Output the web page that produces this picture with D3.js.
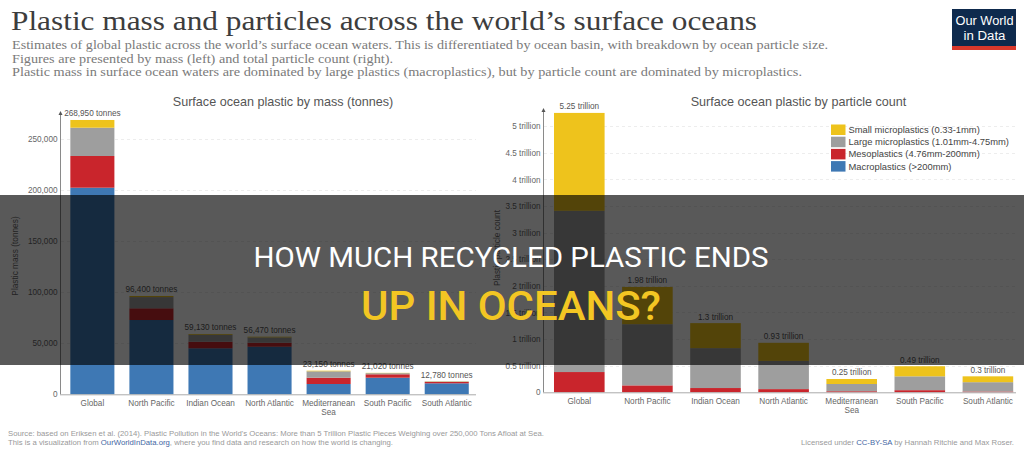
<!DOCTYPE html>
<html><head><meta charset="utf-8">
<script src="https://cdn.jsdelivr.net/npm/d3@7"></script>
<style>
html,body{margin:0;padding:0;background:#fff;}
svg{display:block;}
</style></head>
<body>
<svg id="chart" width="1024" height="451"></svg>
<script>
// ---------------- data ----------------
const categories = ["Global","North Pacific","Indian Ocean","North Atlantic","Mediterranean Sea","South Pacific","South Atlantic"];
const sizeClasses = ["Small microplastics (0.33-1mm)","Large microplastics (1.01mm-4.75mm)","Mesoplastics (4.76mm-200mm)","Macroplastics (>200mm)"];
// mass, tonnes
const massMacro      = [202550, 72840, 45100, 46670, 10100, 16270, 10780];
const massMeso       = [31080, 11470, 6470, 3920, 6170, 3350, 1300];
const massLargeMicro = [27740, 11000, 6760, 5180, 6280, 1100, 500];
const massSmallMicro = [7580, 1090, 800, 700, 600, 300, 200];
const massLabels = ["268,950 tonnes","96,400 tonnes","59,130 tonnes","56,470 tonnes","23,150 tonnes","21,020 tonnes","12,780 tonnes"];
// particle count, trillions
const countMacro      = [0.0009, 0.0003, 0.0002, 0.0002, 0.0001, 0.0001, 0.0001];
const countMeso       = [0.38, 0.13, 0.08, 0.06, 0.02, 0.04, 0.015];
const countLargeMicro = [3.03, 1.15, 0.75, 0.53, 0.136, 0.26, 0.175];
const countSmallMicro = [1.84, 0.70, 0.47, 0.34, 0.094, 0.19, 0.11];
const countLabels = ["5.25 trillion","1.98 trillion","1.3 trillion","0.93 trillion","0.25 trillion","0.49 trillion","0.3 trillion"];
// ticks
const massTicks = [0, 50000, 100000, 150000, 200000, 250000];
const countTicks = [0, 0.5, 1, 1.5, 2, 2.5, 3, 3.5, 4, 4.5, 5];
const countTickLabels = ["0","0.5 trillion","1 trillion","1.5 trillion","2 trillion","2.5 trillion","3 trillion","3.5 trillion","4 trillion","4.5 trillion","5 trillion"];

// ---------------- styles ----------------
const colors = {
  "Small microplastics (0.33-1mm)": "#EEC31C",
  "Large microplastics (1.01mm-4.75mm)": "#9E9E9E",
  "Mesoplastics (4.76mm-200mm)": "#C9252C",
  "Macroplastics (>200mm)": "#3E78B4"
};
const SANS = "'Liberation Sans', Arial, Helvetica, sans-serif";
const SERIF = "'Liberation Serif', 'DejaVu Serif', serif";

const svg = d3.select("#chart");

// ---------------- header ----------------
svg.append("text").attr("x", 11).attr("y", 30)
  .attr("font-family", SERIF).attr("font-size", 27).attr("fill", "#3d3d3d")
  .attr("textLength", 746).attr("lengthAdjust", "spacingAndGlyphs")
  .text("Plastic mass and particles across the world’s surface oceans");
const subtitle = [
  ["Estimates of global plastic across the world’s surface ocean waters. This is differentiated by ocean basin, with breakdown by ocean particle size.", 816],
  ["Figures are presented by mass (left) and total particle count (right).", 381],
  ["Plastic mass in surface ocean waters are dominated by large plastics (macroplastics), but by particle count are dominated by microplastics.", 790]
];
subtitle.forEach((s, i) => {
  svg.append("text").attr("x", 12).attr("y", 49 + i * 13.5)
    .attr("font-family", SERIF).attr("font-size", 13.5).attr("fill", "#7a7a7a")
    .attr("textLength", s[1]).attr("lengthAdjust", "spacingAndGlyphs")
    .text(s[0]);
});
// logo
const logo = svg.append("g");
logo.append("rect").attr("x", 952).attr("y", 9).attr("width", 64).attr("height", 41).attr("fill", "#0E2A4D");
logo.append("rect").attr("x", 952).attr("y", 46).attr("width", 64).attr("height", 4).attr("fill", "#D9382B");
logo.append("text").attr("x", 984.5).attr("y", 25).attr("text-anchor", "middle")
  .attr("font-family", SANS).attr("font-size", 12.5).attr("fill", "#fff")
  .attr("textLength", 58).attr("lengthAdjust", "spacingAndGlyphs").text("Our World");
logo.append("text").attr("x", 984.5).attr("y", 39.5).attr("text-anchor", "middle")
  .attr("font-family", SANS).attr("font-size", 12.5).attr("fill", "#fff")
  .attr("textLength", 42).attr("lengthAdjust", "spacingAndGlyphs").text("in Data");

// ---------------- chart builder ----------------
const stackOrder = ["Macroplastics (>200mm)","Mesoplastics (4.76mm-200mm)","Large microplastics (1.01mm-4.75mm)","Small microplastics (0.33-1mm)"];
function buildRows(macro, meso, large, small) {
  return categories.map((c, i) => ({
    category: c,
    "Macroplastics (>200mm)": macro[i],
    "Mesoplastics (4.76mm-200mm)": meso[i],
    "Large microplastics (1.01mm-4.75mm)": large[i],
    "Small microplastics (0.33-1mm)": small[i]
  }));
}

function drawChart(cfg) {
  const g = svg.append("g");
  const x = d3.scaleBand().domain(categories).range(cfg.xRange).paddingInner(cfg.pIn).paddingOuter(cfg.pOut);
  const y = d3.scaleLinear().domain(cfg.yDomain).range(cfg.yRange);
  const rows = buildRows(...cfg.series);
  const stacked = d3.stack().keys(stackOrder)(rows);

  // gridlines
  g.append("g").selectAll("line").data(cfg.ticks.filter(t => t > 0)).join("line")
    .attr("x1", cfg.axisX + 1).attr("x2", cfg.axisEnd)
    .attr("y1", d => Math.round(y(d)) + 0.5).attr("y2", d => Math.round(y(d)) + 0.5)
    .attr("stroke", "#ededed").attr("stroke-dasharray", "3,3");

  // bars
  g.append("g").selectAll("g").data(stacked).join("g")
    .attr("fill", d => colors[d.key])
    .selectAll("rect").data(d => d).join("rect")
    .attr("x", d => x(d.data.category))
    .attr("width", x.bandwidth())
    .attr("y", d => y(d[1]))
    .attr("height", d => Math.max(0, y(d[0]) - y(d[1])));

  // value labels
  const totals = rows.map(r => d3.sum(stackOrder, k => r[k]));
  g.append("g").selectAll("text").data(categories).join("text")
    .attr("x", d => x(d) + x.bandwidth() / 2)
    .attr("y", (d, i) => y(totals[i]) - 3.5)
    .attr("text-anchor", "middle")
    .attr("font-family", SANS).attr("font-size", 8.2).attr("fill", "#555")
    .text((d, i) => cfg.valueLabels[i]);

  // y axis
  const yAxis = d3.axisLeft(y).tickValues(cfg.ticks).tickSize(0).tickPadding(2.5)
    .tickFormat((d, i) => cfg.tickLabels[i]);
  const ya = g.append("g").attr("transform", `translate(${cfg.axisX},0)`).call(yAxis);
  ya.select(".domain").remove();
  ya.selectAll("text").attr("font-family", SANS).attr("font-size", 8.2).attr("fill", "#666");
  g.append("line").attr("x1", cfg.axisX + 0.5).attr("x2", cfg.axisX + 0.5)
    .attr("y1", cfg.yRange[0]).attr("y2", cfg.axisTop)
    .attr("stroke", "#8a8a8a").attr("stroke-width", 1);
  g.append("path")
    .attr("d", `M${cfg.axisX + 0.5},${cfg.axisTop - 3} l-2,4 l4,0 z`)
    .attr("fill", "#555");

  // x axis
  const xAxis = d3.axisBottom(x).tickSize(0).tickPadding(6);
  const xa = g.append("g").attr("transform", `translate(0,${cfg.yRange[0]})`).call(xAxis);
  xa.select(".domain").remove();
  xa.selectAll("text").attr("font-family", SANS).attr("font-size", 8.2).attr("fill", "#666")
    .each(function(d) {
      const t = d3.select(this);
      if (d.length > 15) {
        const words = d.split(" ");
        t.text(null);
        t.append("tspan").attr("x", 0).attr("dy", "0.71em").text(words.slice(0, -1).join(" "));
        t.append("tspan").attr("x", 0).attr("dy", "1.1em").text(words[words.length - 1]);
      }
    });
  g.append("line").attr("x1", cfg.axisX).attr("x2", cfg.axisEnd)
    .attr("y1", cfg.yRange[0] + 0.5).attr("y2", cfg.yRange[0] + 0.5)
    .attr("stroke", "#aaa");

  // chart title
  g.append("text").attr("x", cfg.titleX).attr("y", 106).attr("text-anchor", "middle")
    .attr("font-family", SANS).attr("font-size", 12.6).attr("fill", "#555")
    .text(cfg.title);
  // y axis title
  g.append("text")
    .attr("transform", `translate(${cfg.yTitleX},${cfg.yTitleY}) rotate(-90)`)
    .attr("text-anchor", "middle").attr("dy", "0.35em")
    .attr("font-family", SANS).attr("font-size", 8.3).attr("fill", "#666")
    .text(cfg.yTitle);
  return g;
}

drawChart({
  series: [massMacro, massMeso, massLargeMicro, massSmallMicro],
  xRange: [60, 479.1], pIn: 0.254, pOut: 0.175,
  yDomain: [0, 275000], yRange: [394.3, 113.8],
  ticks: massTicks, tickLabels: massTicks.map(d3.format(",")),
  valueLabels: massLabels,
  axisX: 60, axisEnd: 476, axisTop: 114,
  title: "Surface ocean plastic by mass (tonnes)", titleX: 283,
  yTitle: "Plastic mass (tonnes)", yTitleX: 15.5, yTitleY: 256
});

drawChart({
  series: [countMacro, countMeso, countLargeMicro, countSmallMicro],
  xRange: [543.3, 1023.9], pIn: 0.257, pOut: 0.157,
  yDomain: [0, 5.3], yRange: [392.3, 110.3],
  ticks: countTicks, tickLabels: countTickLabels,
  valueLabels: countLabels,
  axisX: 543, axisEnd: 1016, axisTop: 111,
  title: "Surface ocean plastic by particle count", titleX: 798.5,
  yTitle: "Plastic particle count", yTitleX: 497, yTitleY: 248
});

// legend
const legend = svg.append("g").attr("transform", "translate(831,124.5)");
sizeClasses.forEach((k, i) => {
  legend.append("rect").attr("x", 0).attr("y", i * 12.2).attr("width", 14.5).attr("height", 10.5).attr("fill", colors[k]);
  legend.append("text").attr("x", 17.5).attr("y", i * 12.2 + 5.2).attr("dy", "0.35em")
    .attr("font-family", SANS).attr("font-size", 9.4).attr("fill", "#444").text(k);
});

// footer
const foot1 = svg.append("text").attr("x", 8).attr("y", 435.5)
  .attr("font-family", SANS).attr("font-size", 7.6).attr("fill", "#999")
  .attr("textLength", 536).attr("lengthAdjust", "spacingAndGlyphs")
  .text("Source: based on Eriksen et al. (2014). Plastic Pollution in the World's Oceans: More than 5 Trillion Plastic Pieces Weighing over 250,000 Tons Afloat at Sea.");
const foot2 = svg.append("text").attr("x", 8).attr("y", 445)
  .attr("font-family", SANS).attr("font-size", 7.6).attr("fill", "#999")
  .attr("textLength", 385).attr("lengthAdjust", "spacingAndGlyphs");
foot2.append("tspan").text("This is a visualization from ");
foot2.append("tspan").attr("fill", "#3F66A3").text("OurWorldInData.org");
foot2.append("tspan").text(", where you find data and research on how the world is changing.");
const foot3 = svg.append("text").attr("x", 1014).attr("y", 444.5).attr("text-anchor", "end")
  .attr("font-family", SANS).attr("font-size", 7.6).attr("fill", "#999")
  .attr("textLength", 213).attr("lengthAdjust", "spacingAndGlyphs");
foot3.append("tspan").text("Licensed under ");
foot3.append("tspan").attr("fill", "#3F66A3").text("CC-BY-SA");
foot3.append("tspan").text(" by Hannah Ritchie and Max Roser.");

// ---------------- overlay banner ----------------
svg.append("rect").attr("x", 0).attr("y", 195).attr("width", 1024).attr("height", 170)
  .attr("fill", "#000").attr("fill-opacity", 0.65);
svg.append("text").attr("x", 253.5).attr("y", 267.3)
  .attr("font-family", "Roboto, 'Liberation Sans', sans-serif").attr("font-size", 27).attr("fill", "#fff")
  .attr("textLength", 515).attr("lengthAdjust", "spacingAndGlyphs")
  .text("HOW MUCH RECYCLED PLASTIC ENDS");
svg.append("text").attr("x", 361).attr("y", 320)
  .attr("font-family", "Roboto, 'Liberation Sans', sans-serif").attr("font-size", 40).attr("font-weight", 500).attr("fill", "#F3C623")
  .attr("textLength", 300).attr("lengthAdjust", "spacingAndGlyphs")
  .text("UP IN OCEANS?");
</script>
</body></html>
